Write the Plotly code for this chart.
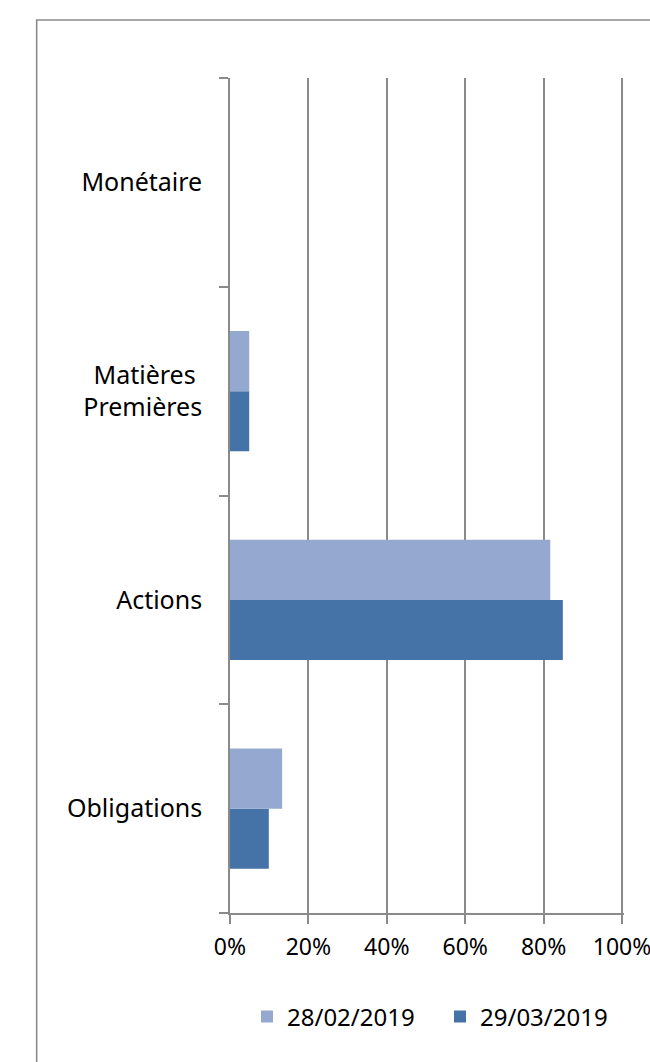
import plotly.graph_objects as go

categories = ["Obligations", "Actions", "Matières\u00a0<br>Premières", "Monétaire"]
series_names = ["28/02/2019", "29/03/2019"]
values_feb = [13.3, 81.7, 4.9, 0]
values_mar = [9.9, 84.9, 4.9, 0]
colors = ["#95A9D0", "#4572A7"]
x_ticks = [0, 20, 40, 60, 80, 100]
x_tick_labels = ["0%", "20%", "40%", "60%", "80%", "100%"]

W, H = 650, 1062
X_MAX = 100.5
L, T, B = 230, 78, 149
pw = 392 * X_MAX / 100
R = W - L - pw
ph = H - T - B

GRID = "#8a8a8a"
FONT = "Noto Sans"

fig = go.Figure()
# second series first so that the first series sits on top in each group
fig.add_trace(go.Bar(y=categories, x=values_mar, name=series_names[1], orientation="h",
                     marker=dict(color=colors[1], line=dict(width=0))))
fig.add_trace(go.Bar(y=categories, x=values_feb, name=series_names[0], orientation="h",
                     marker=dict(color=colors[0], line=dict(width=0))))

def px_x(p):
    return (p - L) / pw

def px_y(p):
    return (H - B - p) / ph

fig.update_layout(
    width=W, height=H,
    margin=dict(l=L, r=R, t=T, b=B, autoexpand=False),
    paper_bgcolor="white", plot_bgcolor="white",
    barmode="group", bargap=0.425, bargroupgap=0,
    font=dict(family=FONT, color="#000000", size=23),
    showlegend=True,
    legend=dict(orientation="h", traceorder="reversed", x=px_x(247), xanchor="left",
                y=px_y(1017), yanchor="middle", font=dict(size=24, family=FONT),
                itemwidth=30, entrywidth=148, entrywidthmode="pixels",
                bgcolor="rgba(0,0,0,0)"),
    xaxis=dict(range=[0, X_MAX], tickvals=x_ticks, ticktext=x_tick_labels,
               showgrid=True, gridcolor=GRID, gridwidth=1.6,
               zeroline=False, showline=True, linecolor=GRID, linewidth=1.6,
               ticks="outside", ticklen=9, tickcolor=GRID, tickwidth=1.6,
               tickfont=dict(size=23, family=FONT), ticklabelstandoff=4,
               ticklabeloverflow="allow",
               fixedrange=True, automargin=False),
    yaxis=dict(categoryorder="array", categoryarray=categories, type="category",
               showgrid=False, zeroline=False, showline=True, linecolor=GRID, linewidth=1.6,
               ticks="outside", tickson="boundaries", ticklen=9, tickcolor=GRID, tickwidth=1.6,
               tickfont=dict(size=25, family=FONT), ticklabelstandoff=21,
               fixedrange=True, automargin=False),
    shapes=[dict(type="rect", xref="paper", yref="paper",
                 x0=px_x(36.7), x1=px_x(700), y0=px_y(1120), y1=px_y(20),
                 line=dict(color=GRID, width=1.6), fillcolor="rgba(0,0,0,0)", layer="below")],
)

fig.write_html("out.html", config={"displayModeBar": False},
               post_script="document.body.style.margin='0';document.body.style.overflow='hidden';")
